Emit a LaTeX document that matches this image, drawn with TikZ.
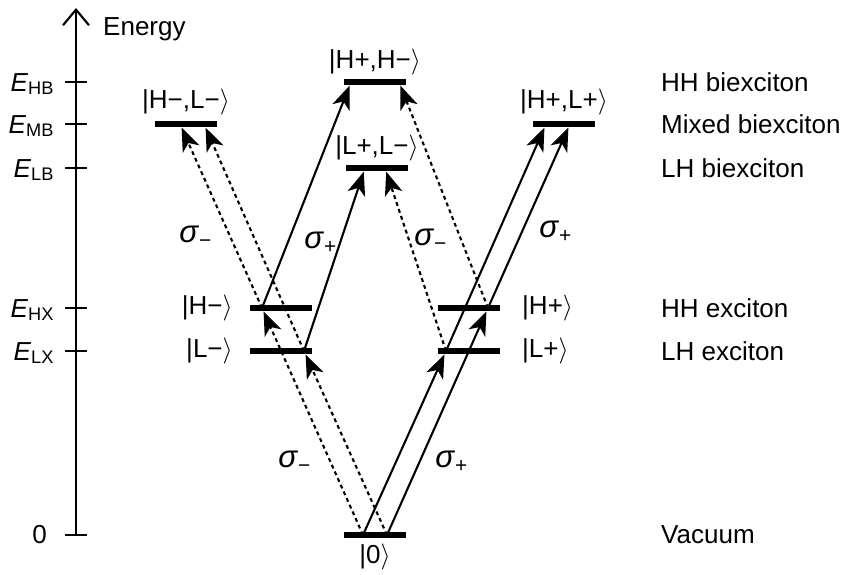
\documentclass[tikz,border=0pt]{standalone}
\usepackage{fontspec}
\setmainfont{Liberation Sans}
\usetikzlibrary{arrows.meta, positioning}

\newcommand{\qstate}[1]{|#1$\rangle$}
\newcommand{\pol}[1]{\textit{σ}\textsubscript{#1}}

\begin{document}
\begin{tikzpicture}[x=0.0135cm, y=-0.0135cm,
  axis/.style={line width=0.8pt},
  level/.style={line width=2pt},
  sigp/.style={-{Stealth[length=9pt,width=7pt,inset=2.5pt]}, line width=0.8pt, shorten >=1.5pt},
  sigm/.style={sigp, dash pattern=on 1.5pt off 1.3pt},
  polar/.style={font=\large}]

\useasboundingbox (0,0) rectangle (847,574);

% Energy axis with ticks
\draw[axis, -{Straight Barb[length=6pt,width=10pt]}] (76,535) -- (76,8);
\node[anchor=base west] (energy) at (94,35) {Energy};
\foreach \y/\lab [count=\i] in {82/HB, 124/MB, 168/LB, 308/HX, 351/LX} {
    \draw[axis] (65,\y) -- (87,\y);
    \node[anchor=base east] (e\i) at (64,{\y+9}) {\textit{E}\textsubscript{\lab}};
}
\draw[axis] (65,535) -- (87,535);
\node[anchor=east] (e0) at (56,535) {0};

% Energy levels
\foreach \x/\y in {344/82, 155/124, 533/124, 346/168, 250/308,
                   438/308, 250/351, 438/351, 344/535} {
    \draw[level] (\x,\y) -- ++(62,0);
}

% State labels
\node (khh) at (375,62) {\qstate{H+,H−}};
\node (khl) at (186,102) {\qstate{H−,L−}};
\node (khp) at (564,102) {\qstate{H+,L+}};
\node (kll) at (377,148) {\qstate{L+,L−}};
\node[anchor=east] (khm) at (242,308) {\qstate{H−}};
\node[anchor=east] (klm) at (242,351) {\qstate{L−}};
\node[anchor=west] (kpp) at (513,308) {\qstate{H+}};
\node[anchor=west] (klp) at (513,351) {\qstate{L+}};
\node (kz) at (375,557) {\qstate{0}};

% Names of the levels
\foreach \y/\txt [count=\i] in {82/HH biexciton, 124/Mixed biexciton, 168/LH biexciton,
                                308/HH exciton, 351/LH exciton, 535/Vacuum} {
    \node[anchor=west] (n\i) at (652,\y) {\txt};
}

% End points of the transitions
\coordinate (g1) at (363,535);
\coordinate (g2) at (387,535);
\coordinate (hl) at (262,308);
\coordinate (ll) at (304,351);
\coordinate (hr) at (488,308);
\coordinate (lr) at (446,351);
\coordinate (ml1) at (180,124);
\coordinate (ml2) at (204,124);
\coordinate (mr1) at (546,124);
\coordinate (mr2) at (570,124);
\coordinate (hb1) at (351,82);
\coordinate (hb2) at (399,82);
\coordinate (lb1) at (365,168);
\coordinate (lb2) at (385,168);

% sigma- transitions
\foreach \a/\b in {g1/hl, hl/ml1, g2/ll, ll/ml2, lr/lb2, hr/hb2} {
    \draw[sigm] (\a) -- (\b);
}

% sigma+ transitions
\foreach \a/\b in {g1/lr, lr/mr1, g2/hr, hr/mr2, hl/hb1, ll/lb1} {
    \draw[sigp] (\a) -- (\b);
}

% Polarisation labels
\node[polar] (s1) at (196,237) {\pol{−}};
\node[polar] (s2) at (321,243) {\pol{+}};
\node[polar] (s3) at (431,240) {\pol{−}};
\node[polar] (s4) at (556,232) {\pol{+}};
\node[polar] (s5) at (295,462) {\pol{−}};
\node[polar] (s6) at (452,462) {\pol{+}};

\end{tikzpicture}
\end{document}
